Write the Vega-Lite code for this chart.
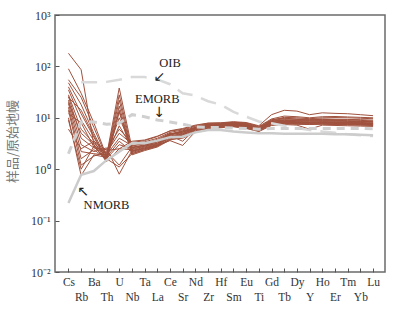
{
  "$schema": "https://vega.github.io/schema/vega-lite/v6.json",
  "width": 330,
  "height": 257,
  "autosize": {"type": "none"},
  "padding": {"left": 55, "top": 15, "right": 18, "bottom": 41},
  "background": "white",
  "view": {"stroke": "#6b6b6b", "strokeWidth": 1.5},
  "config": {"font": "Liberation Serif"},
  "datasets": {
    "smp": [
      {"s":"S01","e":"Cs","v":180},{"s":"S01","e":"Rb","v":86},{"s":"S01","e":"Ba","v":3.0},{"s":"S01","e":"Th","v":1.4},{"s":"S01","e":"U","v":2.5},{"s":"S01","e":"Nb","v":2.4},{"s":"S01","e":"Ta","v":2.8},{"s":"S01","e":"La","v":3.2},{"s":"S01","e":"Ce","v":4.6},{"s":"S01","e":"Sr","v":5.2},{"s":"S01","e":"Nd","v":6.3},{"s":"S01","e":"Zr","v":7.3},{"s":"S01","e":"Hf","v":7.4},{"s":"S01","e":"Sm","v":7.8},{"s":"S01","e":"Eu","v":7.4},{"s":"S01","e":"Ti","v":6.4},{"s":"S01","e":"Gd","v":8.8},{"s":"S01","e":"Tb","v":9.6},{"s":"S01","e":"Dy","v":9.3},{"s":"S01","e":"Y","v":9.2},{"s":"S01","e":"Ho","v":9.3},{"s":"S01","e":"Er","v":9.2},{"s":"S01","e":"Tm","v":9.1},{"s":"S01","e":"Yb","v":8.9},{"s":"S01","e":"Lu","v":8.7},
      {"s":"S02","e":"Cs","v":90},{"s":"S02","e":"Rb","v":30},{"s":"S02","e":"Ba","v":8.0},{"s":"S02","e":"Th","v":1.8},{"s":"S02","e":"U","v":38},{"s":"S02","e":"Nb","v":2.6},{"s":"S02","e":"Ta","v":2.9},{"s":"S02","e":"La","v":3.4},{"s":"S02","e":"Ce","v":4.8},{"s":"S02","e":"Sr","v":5.6},{"s":"S02","e":"Nd","v":6.5},{"s":"S02","e":"Zr","v":7.1},{"s":"S02","e":"Hf","v":7.2},{"s":"S02","e":"Sm","v":7.5},{"s":"S02","e":"Eu","v":7.0},{"s":"S02","e":"Ti","v":6.2},{"s":"S02","e":"Gd","v":8.2},{"s":"S02","e":"Tb","v":8.6},{"s":"S02","e":"Dy","v":8.4},{"s":"S02","e":"Y","v":8.3},{"s":"S02","e":"Ho","v":8.4},{"s":"S02","e":"Er","v":8.3},{"s":"S02","e":"Tm","v":8.2},{"s":"S02","e":"Yb","v":8.1},{"s":"S02","e":"Lu","v":7.9},
      {"s":"S03","e":"Cs","v":55},{"s":"S03","e":"Rb","v":25},{"s":"S03","e":"Ba","v":6.5},{"s":"S03","e":"Th","v":1.7},{"s":"S03","e":"U","v":28},{"s":"S03","e":"Nb","v":2.3},{"s":"S03","e":"Ta","v":2.7},{"s":"S03","e":"La","v":3.1},{"s":"S03","e":"Ce","v":4.4},{"s":"S03","e":"Sr","v":5.0},{"s":"S03","e":"Nd","v":6.1},{"s":"S03","e":"Zr","v":6.9},{"s":"S03","e":"Hf","v":7.0},{"s":"S03","e":"Sm","v":7.3},{"s":"S03","e":"Eu","v":6.8},{"s":"S03","e":"Ti","v":6.0},{"s":"S03","e":"Gd","v":7.9},{"s":"S03","e":"Tb","v":8.3},{"s":"S03","e":"Dy","v":8.1},{"s":"S03","e":"Y","v":8.0},{"s":"S03","e":"Ho","v":8.1},{"s":"S03","e":"Er","v":8.0},{"s":"S03","e":"Tm","v":7.9},{"s":"S03","e":"Yb","v":7.8},{"s":"S03","e":"Lu","v":7.6},
      {"s":"S04","e":"Cs","v":48},{"s":"S04","e":"Rb","v":18},{"s":"S04","e":"Ba","v":5.0},{"s":"S04","e":"Th","v":1.6},{"s":"S04","e":"U","v":22},{"s":"S04","e":"Nb","v":2.1},{"s":"S04","e":"Ta","v":2.5},{"s":"S04","e":"La","v":2.9},{"s":"S04","e":"Ce","v":4.1},{"s":"S04","e":"Sr","v":4.6},{"s":"S04","e":"Nd","v":5.8},{"s":"S04","e":"Zr","v":6.7},{"s":"S04","e":"Hf","v":6.8},{"s":"S04","e":"Sm","v":7.1},{"s":"S04","e":"Eu","v":6.6},{"s":"S04","e":"Ti","v":5.8},{"s":"S04","e":"Gd","v":7.7},{"s":"S04","e":"Tb","v":8.1},{"s":"S04","e":"Dy","v":7.9},{"s":"S04","e":"Y","v":7.8},{"s":"S04","e":"Ho","v":7.9},{"s":"S04","e":"Er","v":7.8},{"s":"S04","e":"Tm","v":7.7},{"s":"S04","e":"Yb","v":7.6},{"s":"S04","e":"Lu","v":7.4},
      {"s":"S05","e":"Cs","v":40},{"s":"S05","e":"Rb","v":12},{"s":"S05","e":"Ba","v":4.2},{"s":"S05","e":"Th","v":1.5},{"s":"S05","e":"U","v":17},{"s":"S05","e":"Nb","v":2.0},{"s":"S05","e":"Ta","v":2.4},{"s":"S05","e":"La","v":2.8},{"s":"S05","e":"Ce","v":3.9},{"s":"S05","e":"Sr","v":4.4},{"s":"S05","e":"Nd","v":5.6},{"s":"S05","e":"Zr","v":6.5},{"s":"S05","e":"Hf","v":6.6},{"s":"S05","e":"Sm","v":6.9},{"s":"S05","e":"Eu","v":6.5},{"s":"S05","e":"Ti","v":5.7},{"s":"S05","e":"Gd","v":7.5},{"s":"S05","e":"Tb","v":7.9},{"s":"S05","e":"Dy","v":7.7},{"s":"S05","e":"Y","v":7.6},{"s":"S05","e":"Ho","v":7.7},{"s":"S05","e":"Er","v":7.6},{"s":"S05","e":"Tm","v":7.5},{"s":"S05","e":"Yb","v":7.4},{"s":"S05","e":"Lu","v":7.3},
      {"s":"S06","e":"Cs","v":35},{"s":"S06","e":"Rb","v":9},{"s":"S06","e":"Ba","v":3.6},{"s":"S06","e":"Th","v":1.4},{"s":"S06","e":"U","v":13},{"s":"S06","e":"Nb","v":1.9},{"s":"S06","e":"Ta","v":2.3},{"s":"S06","e":"La","v":2.7},{"s":"S06","e":"Ce","v":3.7},{"s":"S06","e":"Sr","v":4.2},{"s":"S06","e":"Nd","v":5.4},{"s":"S06","e":"Zr","v":6.3},{"s":"S06","e":"Hf","v":6.5},{"s":"S06","e":"Sm","v":6.8},{"s":"S06","e":"Eu","v":6.3},{"s":"S06","e":"Ti","v":5.5},{"s":"S06","e":"Gd","v":7.3},{"s":"S06","e":"Tb","v":7.7},{"s":"S06","e":"Dy","v":7.5},{"s":"S06","e":"Y","v":7.4},{"s":"S06","e":"Ho","v":7.5},{"s":"S06","e":"Er","v":7.4},{"s":"S06","e":"Tm","v":7.3},{"s":"S06","e":"Yb","v":7.2},{"s":"S06","e":"Lu","v":7.1},
      {"s":"S07","e":"Cs","v":28},{"s":"S07","e":"Rb","v":6},{"s":"S07","e":"Ba","v":3.2},{"s":"S07","e":"Th","v":2.0},{"s":"S07","e":"U","v":10},{"s":"S07","e":"Nb","v":2.8},{"s":"S07","e":"Ta","v":3.2},{"s":"S07","e":"La","v":3.8},{"s":"S07","e":"Ce","v":5.0},{"s":"S07","e":"Sr","v":4.8},{"s":"S07","e":"Nd","v":6.4},{"s":"S07","e":"Zr","v":7.4},{"s":"S07","e":"Hf","v":7.5},{"s":"S07","e":"Sm","v":7.9},{"s":"S07","e":"Eu","v":7.5},{"s":"S07","e":"Ti","v":6.4},{"s":"S07","e":"Gd","v":8.6},{"s":"S07","e":"Tb","v":9.2},{"s":"S07","e":"Dy","v":9.0},{"s":"S07","e":"Y","v":8.9},{"s":"S07","e":"Ho","v":9.0},{"s":"S07","e":"Er","v":8.9},{"s":"S07","e":"Tm","v":8.8},{"s":"S07","e":"Yb","v":8.6},{"s":"S07","e":"Lu","v":8.4},
      {"s":"S08","e":"Cs","v":26},{"s":"S08","e":"Rb","v":4},{"s":"S08","e":"Ba","v":2.6},{"s":"S08","e":"Th","v":2.4},{"s":"S08","e":"U","v":6},{"s":"S08","e":"Nb","v":3.3},{"s":"S08","e":"Ta","v":3.6},{"s":"S08","e":"La","v":4.3},{"s":"S08","e":"Ce","v":5.6},{"s":"S08","e":"Sr","v":6.2},{"s":"S08","e":"Nd","v":7.2},{"s":"S08","e":"Zr","v":7.9},{"s":"S08","e":"Hf","v":8.0},{"s":"S08","e":"Sm","v":8.4},{"s":"S08","e":"Eu","v":8.1},{"s":"S08","e":"Ti","v":7.0},{"s":"S08","e":"Gd","v":11.5},{"s":"S08","e":"Tb","v":14},{"s":"S08","e":"Dy","v":13.5},{"s":"S08","e":"Y","v":11.5},{"s":"S08","e":"Ho","v":12.5},{"s":"S08","e":"Er","v":12.2},{"s":"S08","e":"Tm","v":12.0},{"s":"S08","e":"Yb","v":11.5},{"s":"S08","e":"Lu","v":11.0},
      {"s":"S09","e":"Cs","v":22},{"s":"S09","e":"Rb","v":3},{"s":"S09","e":"Ba","v":2.2},{"s":"S09","e":"Th","v":2.6},{"s":"S09","e":"U","v":0.8},{"s":"S09","e":"Nb","v":2.3},{"s":"S09","e":"Ta","v":2.5},{"s":"S09","e":"La","v":2.9},{"s":"S09","e":"Ce","v":3.6},{"s":"S09","e":"Sr","v":2.9},{"s":"S09","e":"Nd","v":5.4},{"s":"S09","e":"Zr","v":6.4},{"s":"S09","e":"Hf","v":6.6},{"s":"S09","e":"Sm","v":7.0},{"s":"S09","e":"Eu","v":6.5},{"s":"S09","e":"Ti","v":5.8},{"s":"S09","e":"Gd","v":7.4},{"s":"S09","e":"Tb","v":7.8},{"s":"S09","e":"Dy","v":7.6},{"s":"S09","e":"Y","v":7.5},{"s":"S09","e":"Ho","v":7.6},{"s":"S09","e":"Er","v":7.5},{"s":"S09","e":"Tm","v":7.4},{"s":"S09","e":"Yb","v":7.3},{"s":"S09","e":"Lu","v":7.2},
      {"s":"S10","e":"Cs","v":19},{"s":"S10","e":"Rb","v":2.2},{"s":"S10","e":"Ba","v":2.0},{"s":"S10","e":"Th","v":1.9},{"s":"S10","e":"U","v":4.0},{"s":"S10","e":"Nb","v":2.9},{"s":"S10","e":"Ta","v":3.1},{"s":"S10","e":"La","v":3.6},{"s":"S10","e":"Ce","v":4.9},{"s":"S10","e":"Sr","v":5.3},{"s":"S10","e":"Nd","v":6.5},{"s":"S10","e":"Zr","v":7.5},{"s":"S10","e":"Hf","v":7.6},{"s":"S10","e":"Sm","v":8.0},{"s":"S10","e":"Eu","v":7.6},{"s":"S10","e":"Ti","v":6.3},{"s":"S10","e":"Gd","v":9.0},{"s":"S10","e":"Tb","v":10.2},{"s":"S10","e":"Dy","v":10.0},{"s":"S10","e":"Y","v":9.6},{"s":"S10","e":"Ho","v":10.0},{"s":"S10","e":"Er","v":10.1},{"s":"S10","e":"Tm","v":10.0},{"s":"S10","e":"Yb","v":9.8},{"s":"S10","e":"Lu","v":9.6},
      {"s":"S11","e":"Cs","v":16},{"s":"S11","e":"Rb","v":1.6},{"s":"S11","e":"Ba","v":2.4},{"s":"S11","e":"Th","v":1.6},{"s":"S11","e":"U","v":3.0},{"s":"S11","e":"Nb","v":2.5},{"s":"S11","e":"Ta","v":2.8},{"s":"S11","e":"La","v":3.2},{"s":"S11","e":"Ce","v":4.5},{"s":"S11","e":"Sr","v":3.5},{"s":"S11","e":"Nd","v":6.0},{"s":"S11","e":"Zr","v":7.0},{"s":"S11","e":"Hf","v":7.1},{"s":"S11","e":"Sm","v":7.4},{"s":"S11","e":"Eu","v":7.0},{"s":"S11","e":"Ti","v":6.0},{"s":"S11","e":"Gd","v":8.0},{"s":"S11","e":"Tb","v":8.5},{"s":"S11","e":"Dy","v":8.3},{"s":"S11","e":"Y","v":8.2},{"s":"S11","e":"Ho","v":8.3},{"s":"S11","e":"Er","v":8.2},{"s":"S11","e":"Tm","v":8.1},{"s":"S11","e":"Yb","v":8.0},{"s":"S11","e":"Lu","v":7.8},
      {"s":"S12","e":"Cs","v":14},{"s":"S12","e":"Rb","v":1.2},{"s":"S12","e":"Ba","v":1.8},{"s":"S12","e":"Th","v":2.2},{"s":"S12","e":"U","v":1.2},{"s":"S12","e":"Nb","v":2.7},{"s":"S12","e":"Ta","v":2.9},{"s":"S12","e":"La","v":3.4},{"s":"S12","e":"Ce","v":4.7},{"s":"S12","e":"Sr","v":5.5},{"s":"S12","e":"Nd","v":6.3},{"s":"S12","e":"Zr","v":7.2},{"s":"S12","e":"Hf","v":7.3},{"s":"S12","e":"Sm","v":7.6},{"s":"S12","e":"Eu","v":7.2},{"s":"S12","e":"Ti","v":6.1},{"s":"S12","e":"Gd","v":8.4},{"s":"S12","e":"Tb","v":8.9},{"s":"S12","e":"Dy","v":8.7},{"s":"S12","e":"Y","v":8.6},{"s":"S12","e":"Ho","v":8.7},{"s":"S12","e":"Er","v":8.6},{"s":"S12","e":"Tm","v":8.5},{"s":"S12","e":"Yb","v":8.4},{"s":"S12","e":"Lu","v":8.2},
      {"s":"S13","e":"Cs","v":10},{"s":"S13","e":"Rb","v":0.75},{"s":"S13","e":"Ba","v":1.9},{"s":"S13","e":"Th","v":1.7},{"s":"S13","e":"U","v":3.5},{"s":"S13","e":"Nb","v":2.2},{"s":"S13","e":"Ta","v":2.6},{"s":"S13","e":"La","v":3.0},{"s":"S13","e":"Ce","v":4.3},{"s":"S13","e":"Sr","v":4.7},{"s":"S13","e":"Nd","v":5.9},{"s":"S13","e":"Zr","v":6.8},{"s":"S13","e":"Hf","v":6.9},{"s":"S13","e":"Sm","v":7.2},{"s":"S13","e":"Eu","v":6.7},{"s":"S13","e":"Ti","v":5.9},{"s":"S13","e":"Gd","v":7.8},{"s":"S13","e":"Tb","v":8.2},{"s":"S13","e":"Dy","v":8.0},{"s":"S13","e":"Y","v":7.9},{"s":"S13","e":"Ho","v":8.0},{"s":"S13","e":"Er","v":7.9},{"s":"S13","e":"Tm","v":7.8},{"s":"S13","e":"Yb","v":7.7},{"s":"S13","e":"Lu","v":7.5},
      {"s":"S14","e":"Cs","v":9},{"s":"S14","e":"Rb","v":1.0},{"s":"S14","e":"Ba","v":2.8},{"s":"S14","e":"Th","v":2.1},{"s":"S14","e":"U","v":5},{"s":"S14","e":"Nb","v":3.1},{"s":"S14","e":"Ta","v":3.4},{"s":"S14","e":"La","v":4.0},{"s":"S14","e":"Ce","v":5.2},{"s":"S14","e":"Sr","v":5.8},{"s":"S14","e":"Nd","v":6.8},{"s":"S14","e":"Zr","v":7.6},{"s":"S14","e":"Hf","v":7.7},{"s":"S14","e":"Sm","v":8.1},{"s":"S14","e":"Eu","v":7.8},{"s":"S14","e":"Ti","v":6.6},{"s":"S14","e":"Gd","v":9.2},{"s":"S14","e":"Tb","v":9.8},{"s":"S14","e":"Dy","v":9.5},{"s":"S14","e":"Y","v":9.4},{"s":"S14","e":"Ho","v":9.5},{"s":"S14","e":"Er","v":9.4},{"s":"S14","e":"Tm","v":9.3},{"s":"S14","e":"Yb","v":9.2},{"s":"S14","e":"Lu","v":9.0},
      {"s":"S15","e":"Cs","v":25},{"s":"S15","e":"Rb","v":14},{"s":"S15","e":"Ba","v":4.5},{"s":"S15","e":"Th","v":1.5},{"s":"S15","e":"U","v":14},{"s":"S15","e":"Nb","v":2.2},{"s":"S15","e":"Ta","v":2.6},{"s":"S15","e":"La","v":3.0},{"s":"S15","e":"Ce","v":4.2},{"s":"S15","e":"Sr","v":4.9},{"s":"S15","e":"Nd","v":6.0},{"s":"S15","e":"Zr","v":6.9},{"s":"S15","e":"Hf","v":7.0},{"s":"S15","e":"Sm","v":7.3},{"s":"S15","e":"Eu","v":6.9},{"s":"S15","e":"Ti","v":5.9},{"s":"S15","e":"Gd","v":7.9},{"s":"S15","e":"Tb","v":8.4},{"s":"S15","e":"Dy","v":8.2},{"s":"S15","e":"Y","v":8.1},{"s":"S15","e":"Ho","v":8.2},{"s":"S15","e":"Er","v":8.1},{"s":"S15","e":"Tm","v":8.0},{"s":"S15","e":"Yb","v":7.9},{"s":"S15","e":"Lu","v":7.7},
      {"s":"S16","e":"Cs","v":20},{"s":"S16","e":"Rb","v":5},{"s":"S16","e":"Ba","v":3.0},{"s":"S16","e":"Th","v":1.8},{"s":"S16","e":"U","v":7},{"s":"S16","e":"Nb","v":2.6},{"s":"S16","e":"Ta","v":3.0},{"s":"S16","e":"La","v":3.5},{"s":"S16","e":"Ce","v":4.8},{"s":"S16","e":"Sr","v":5.3},{"s":"S16","e":"Nd","v":6.4},{"s":"S16","e":"Zr","v":7.3},{"s":"S16","e":"Hf","v":7.4},{"s":"S16","e":"Sm","v":7.7},{"s":"S16","e":"Eu","v":7.3},{"s":"S16","e":"Ti","v":6.2},{"s":"S16","e":"Gd","v":8.5},{"s":"S16","e":"Tb","v":9.0},{"s":"S16","e":"Dy","v":8.8},{"s":"S16","e":"Y","v":8.7},{"s":"S16","e":"Ho","v":8.8},{"s":"S16","e":"Er","v":8.7},{"s":"S16","e":"Tm","v":8.6},{"s":"S16","e":"Yb","v":8.5},{"s":"S16","e":"Lu","v":8.3},
      {"s":"S17","e":"Cs","v":6},{"s":"S17","e":"Rb","v":2.5},{"s":"S17","e":"Ba","v":3.5},{"s":"S17","e":"Th","v":2.3},{"s":"S17","e":"U","v":2.5},{"s":"S17","e":"Nb","v":3.5},{"s":"S17","e":"Ta","v":3.7},{"s":"S17","e":"La","v":4.4},{"s":"S17","e":"Ce","v":5.5},{"s":"S17","e":"Sr","v":6.0},{"s":"S17","e":"Nd","v":7.0},{"s":"S17","e":"Zr","v":7.8},{"s":"S17","e":"Hf","v":7.9},{"s":"S17","e":"Sm","v":8.2},{"s":"S17","e":"Eu","v":7.9},{"s":"S17","e":"Ti","v":6.8},{"s":"S17","e":"Gd","v":9.5},{"s":"S17","e":"Tb","v":10.8},{"s":"S17","e":"Dy","v":10.5},{"s":"S17","e":"Y","v":10.0},{"s":"S17","e":"Ho","v":10.5},{"s":"S17","e":"Er","v":10.6},{"s":"S17","e":"Tm","v":10.4},{"s":"S17","e":"Yb","v":10.2},{"s":"S17","e":"Lu","v":10.0},
      {"s":"S18","e":"Cs","v":12},{"s":"S18","e":"Rb","v":8},{"s":"S18","e":"Ba","v":2.7},{"s":"S18","e":"Th","v":1.6},{"s":"S18","e":"U","v":1.1},{"s":"S18","e":"Nb","v":2.0},{"s":"S18","e":"Ta","v":2.4},{"s":"S18","e":"La","v":2.8},{"s":"S18","e":"Ce","v":3.8},{"s":"S18","e":"Sr","v":4.0},{"s":"S18","e":"Nd","v":5.2},{"s":"S18","e":"Zr","v":6.2},{"s":"S18","e":"Hf","v":6.4},{"s":"S18","e":"Sm","v":6.7},{"s":"S18","e":"Eu","v":6.2},{"s":"S18","e":"Ti","v":5.4},{"s":"S18","e":"Gd","v":7.1},{"s":"S18","e":"Tb","v":7.4},{"s":"S18","e":"Dy","v":7.2},{"s":"S18","e":"Y","v":6.0},{"s":"S18","e":"Ho","v":7.2},{"s":"S18","e":"Er","v":7.1},{"s":"S18","e":"Tm","v":7.0},{"s":"S18","e":"Yb","v":6.9},{"s":"S18","e":"Lu","v":6.8}
    ],
    "ref": [
      {"s":"OIB","e":"Rb","v":49},{"s":"OIB","e":"Ba","v":49},{"s":"OIB","e":"Th","v":50},{"s":"OIB","e":"U","v":55},{"s":"OIB","e":"Nb","v":62},{"s":"OIB","e":"Ta","v":62},{"s":"OIB","e":"La","v":56},{"s":"OIB","e":"Ce","v":45},{"s":"OIB","e":"Sr","v":30},{"s":"OIB","e":"Nd","v":27},{"s":"OIB","e":"Zr","v":21},{"s":"OIB","e":"Hf","v":18},{"s":"OIB","e":"Sm","v":13},{"s":"OIB","e":"Eu","v":10.5},{"s":"OIB","e":"Ti","v":8.5},{"s":"OIB","e":"Gd","v":7.8},{"s":"OIB","e":"Tb","v":7.0},{"s":"OIB","e":"Dy","v":6.3},{"s":"OIB","e":"Y","v":5.8},{"s":"OIB","e":"Ho","v":5.4},{"s":"OIB","e":"Er","v":5.1},{"s":"OIB","e":"Tm","v":4.8},{"s":"OIB","e":"Yb","v":4.6},{"s":"OIB","e":"Lu","v":4.4},
      {"s":"EMORB","e":"Cs","v":2.0},{"s":"EMORB","e":"Rb","v":8.3},{"s":"EMORB","e":"Ba","v":8.3},{"s":"EMORB","e":"Th","v":7.5},{"s":"EMORB","e":"U","v":7.8},{"s":"EMORB","e":"Nb","v":11.5},{"s":"EMORB","e":"Ta","v":10.5},{"s":"EMORB","e":"La","v":9.1},{"s":"EMORB","e":"Ce","v":8.3},{"s":"EMORB","e":"Sr","v":7.5},{"s":"EMORB","e":"Nd","v":6.6},{"s":"EMORB","e":"Zr","v":6.5},{"s":"EMORB","e":"Hf","v":6.5},{"s":"EMORB","e":"Sm","v":6.3},{"s":"EMORB","e":"Eu","v":6.2},{"s":"EMORB","e":"Ti","v":6.0},{"s":"EMORB","e":"Gd","v":6.2},{"s":"EMORB","e":"Tb","v":6.2},{"s":"EMORB","e":"Dy","v":6.2},{"s":"EMORB","e":"Y","v":6.2},{"s":"EMORB","e":"Ho","v":6.2},{"s":"EMORB","e":"Er","v":6.2},{"s":"EMORB","e":"Tm","v":6.2},{"s":"EMORB","e":"Yb","v":6.2},{"s":"EMORB","e":"Lu","v":6.1},
      {"s":"NMORB","e":"Cs","v":0.22},{"s":"NMORB","e":"Rb","v":0.78},{"s":"NMORB","e":"Ba","v":0.92},{"s":"NMORB","e":"Th","v":1.5},{"s":"NMORB","e":"U","v":2.2},{"s":"NMORB","e":"Nb","v":3.2},{"s":"NMORB","e":"Ta","v":3.2},{"s":"NMORB","e":"La","v":3.6},{"s":"NMORB","e":"Ce","v":4.2},{"s":"NMORB","e":"Sr","v":4.3},{"s":"NMORB","e":"Nd","v":5.2},{"s":"NMORB","e":"Zr","v":5.8},{"s":"NMORB","e":"Hf","v":5.8},{"s":"NMORB","e":"Sm","v":5.4},{"s":"NMORB","e":"Eu","v":5.2},{"s":"NMORB","e":"Ti","v":5.0},{"s":"NMORB","e":"Gd","v":5.0},{"s":"NMORB","e":"Tb","v":4.9},{"s":"NMORB","e":"Dy","v":4.9},{"s":"NMORB","e":"Y","v":4.9},{"s":"NMORB","e":"Ho","v":4.9},{"s":"NMORB","e":"Er","v":4.8},{"s":"NMORB","e":"Tm","v":4.8},{"s":"NMORB","e":"Yb","v":4.7},{"s":"NMORB","e":"Lu","v":4.6}
    ],
    "ann": [
      {"t":"OIB","e":"Ce","v":117},
      {"t":"EMORB","e":"La","v":23.3},
      {"t":"NMORB","e":"Th","v":0.198}
    ],
    "arr": [
      {"t":"↙","e":"La","v":63},
      {"t":"↓","e":"La","v":12.2},
      {"t":"↖","e":"Rb","v":0.36}
    ]
  },
  "encoding": {
    "x": {
      "field": "e",
      "type": "ordinal",
      "scale": {"type": "point", "padding": 1.03, "align": 0.53,
        "domain": ["Cs","Rb","Ba","Th","U","Nb","Ta","La","Ce","Sr","Nd","Zr","Hf","Sm","Eu","Ti","Gd","Tb","Dy","Y","Ho","Er","Tm","Yb","Lu"]},
      "axis": {
        "title": null,
        "labelAngle": 0,
        "labelExpr": "indexof(['Rb','Th','Nb','La','Sr','Zr','Sm','Ti','Tb','Y','Er','Yb'], datum.value) >= 0 ? ['', datum.value] : datum.value",
        "labelBaseline": "top",
        "labelLineHeight": 15,
        "labelFont": "Liberation Serif",
        "labelFontSize": 11.5,
        "labelColor": "#333",
        "labelOverlap": false,
        "labelBound": false,
        "labelFlush": false,
        "tickSize": -4,
        "tickColor": "#555",
        "tickWidth": 1,
        "labelPadding": 8,
        "domain": false,
        "grid": false
      }
    },
    "y": {
      "field": "v",
      "type": "quantitative",
      "scale": {"type": "log", "domain": [0.01, 1000], "nice": false},
      "axis": {
        "values": [0.01, 0.1, 1, 10, 100, 1000],
        "labelExpr": "datum.value >= 999 ? '10³' : datum.value >= 99 ? '10²' : datum.value >= 9 ? '10¹' : datum.value >= 0.9 ? '10⁰' : datum.value >= 0.09 ? '10⁻¹' : '10⁻²'",
        "labelFont": "Liberation Serif",
        "labelFontSize": 12,
        "labelColor": "#333",
        "labelOverlap": false,
        "labelBound": false,
        "labelFlush": false,
        "tickSize": -4,
        "tickColor": "#555",
        "labelPadding": 9,
        "domain": false,
        "grid": false,
        "title": "样品/原始地幔",
        "titleFont": "Noto Sans CJK SC",
        "titleFontSize": 13,
        "titleFontWeight": "normal",
        "titleColor": "#777",
        "titleAngle": -90,
        "titleX": -43,
        "titleY": 126,
        "titleAlign": "center",
        "titleBaseline": "middle"
      }
    }
  },
  "layer": [
    {
      "data": {"name": "smp"},
      "mark": {"type": "line", "color": "#a0523e", "strokeWidth": 1},
      "encoding": {"detail": {"field": "s"}}
    },
    {
      "data": {"name": "ref"},
      "transform": [{"filter": "datum.s == 'OIB'"}],
      "mark": {"type": "line", "color": "#d9d9d9", "strokeWidth": 2.5, "strokeDash": [16, 9]},
      "encoding": {}
    },
    {
      "data": {"name": "ref"},
      "transform": [{"filter": "datum.s == 'EMORB'"}],
      "mark": {"type": "line", "color": "#d0d0d0", "strokeWidth": 3, "strokeDash": [8, 6]},
      "encoding": {}
    },
    {
      "data": {"name": "ref"},
      "transform": [{"filter": "datum.s == 'NMORB'"}],
      "mark": {"type": "line", "color": "#cccccc", "strokeWidth": 2.5},
      "encoding": {}
    },
    {
      "data": {"name": "ann"},
      "mark": {"type": "text", "font": "Liberation Serif", "fontSize": 12.5, "color": "#222", "align": "center", "baseline": "middle"},
      "encoding": {"text": {"field": "t"}}
    },
    {
      "data": {"name": "arr"},
      "mark": {"type": "text", "font": "DejaVu Sans", "fontSize": 14, "color": "#222", "align": "center", "baseline": "middle", "dx": 2},
      "encoding": {"text": {"field": "t"}}
    }
  ]
}
